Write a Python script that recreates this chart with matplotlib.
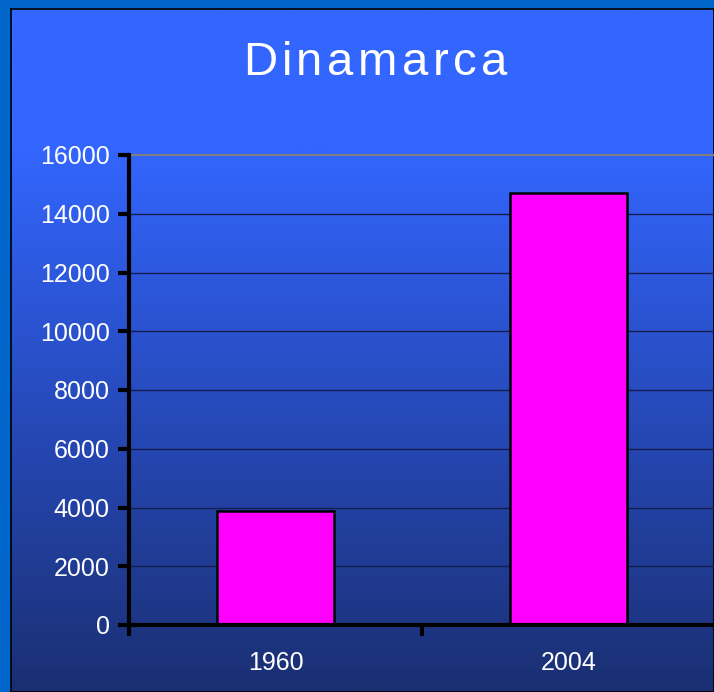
import numpy as np
import matplotlib
matplotlib.use("Agg")
import matplotlib.pyplot as plt
from matplotlib.colors import LinearSegmentedColormap

plt.rcParams['font.family'] = ['Liberation Sans', 'DejaVu Sans']

years = ["1960", "2004"]
values = [3880, 14700]
yticks = [0, 2000, 4000, 6000, 8000, 10000, 12000, 14000, 16000]
title = "Dinamarca"

W, H = 714, 692
fig = plt.figure(figsize=(W / 100, H / 100), dpi=100, facecolor="#0066cc")

# background panel with vertical gradient
bg = fig.add_axes([11 / W, 0, 1 - 11 / W, 1 - 9 / H])
grad = np.linspace(0, 1, 256).reshape(-1, 1)
cmap = LinearSegmentedColormap.from_list(
    "bg", [(0, "#3366ff"), (0.2, "#3366ff"), (0.65, "#2546b0"), (1, "#1a2f72")])
bg.imshow(grad, aspect="auto", cmap=cmap, extent=[0, 1, 0, 1], origin="upper")
bg.set_xlim(0, 1)
bg.set_ylim(0, 1)
for s in bg.spines.values():
    s.set_color("black")
    s.set_linewidth(1.2)
bg.set_xticks([])
bg.set_yticks([])

# title with a little letter spacing
renderer = fig.canvas.get_renderer()
fs = 34
spacing = 4.5  # px between letters
widths = []
for ch in title:
    t = fig.text(0, 0, ch, fontsize=fs)
    widths.append(t.get_window_extent(renderer).width)
    t.remove()
total = sum(widths) + spacing * (len(title) - 1)
xpos = 375 - total / 2
for ch, w in zip(title, widths):
    fig.text(xpos / W, 1 - 63 / H, ch, color="white", fontsize=fs,
             ha="left", va="center")
    xpos += w + spacing

ax = fig.add_axes([129 / W, 1 - 625 / H, 1 - 129 / W + 1 / W, (625 - 155) / H])
ax.patch.set_alpha(0)
x = np.arange(len(years))
ax.bar(x, values, width=0.4, color="#ff00ff", edgecolor="black", linewidth=1.8, zorder=3)
ax.set_xlim(-0.5, 1.5)
ax.set_ylim(0, 16000)
ax.set_yticks(yticks)
ax.set_yticklabels([str(v) for v in yticks])
ax.set_xticks(x)
ax.set_xticklabels(years)
ax.set_xticks([-0.5, 0.5], minor=True)
ax.tick_params(axis="x", which="major", length=0, pad=19, labelsize=18, labelcolor="white")
ax.tick_params(axis="x", which="minor", length=8, width=3, direction="out", color="black")
ax.tick_params(axis="y", length=8, width=3, direction="out", color="black",
               labelsize=18, labelcolor="white", pad=6)
for v in yticks[1:-1]:
    ax.axhline(v, color="#141c50", linewidth=1, zorder=1)
ax.axhline(16000, color="#808080", linewidth=1.5, zorder=1, clip_on=False)
for side in ["top", "right"]:
    ax.spines[side].set_visible(False)
for side in ["left", "bottom"]:
    ax.spines[side].set_color("black")
    ax.spines[side].set_linewidth(3)
    ax.spines[side].set_zorder(4)

fig.savefig("out.png", dpi=100, facecolor=fig.get_facecolor())
